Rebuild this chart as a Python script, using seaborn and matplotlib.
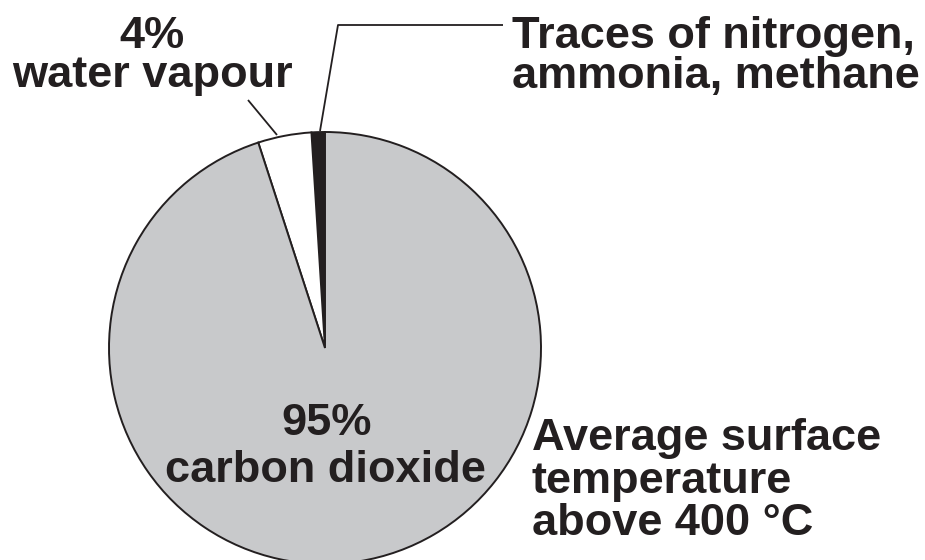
import matplotlib
matplotlib.use("Agg")
import matplotlib.pyplot as plt
import seaborn as sns

# Venus atmosphere composition (percent)
gases = ["Traces", "Water vapour", "Carbon dioxide"]
shares = [1, 4, 95]
slice_colors = ["#231f20", "#ffffff", "#c8c9cb"]

ink = "#231f20"
W, H = 925, 560

sns.set_style("white")
plt.rcParams["font.family"] = ["Liberation Sans", "DejaVu Sans"]


def py(y):
    # pixel row (from top) to data y
    return H - y


fig = plt.figure(figsize=(W / 100, H / 100), dpi=100)
ax = fig.add_axes([0, 0, 1, 1])

ax.pie(
    shares,
    colors=slice_colors,
    startangle=90,
    counterclock=True,
    center=(325, py(348)),
    radius=216,
    wedgeprops=dict(edgecolor=ink, linewidth=1.4),
)
ax.set_xlim(0, W)
ax.set_ylim(0, H)
ax.set_aspect("equal")
ax.axis("off")

fs = 32.5
txt = dict(fontsize=fs, fontweight="bold", color=ink, va="baseline")

# leader lines
ax.plot([320, 338, 503], [py(131), py(25), py(25)], color=ink, lw=1.3,
        solid_capstyle="butt")
ax.plot([248, 277], [py(100), py(135)], color=ink, lw=1.3,
        solid_capstyle="butt")

ax.text(152, py(48), "4%", ha="center", **txt)
ax.text(152, py(87), "water vapour", ha="center", **txt)

ax.text(512, py(48), "Traces of nitrogen,", ha="left", **txt)
ax.text(512, py(88), "ammonia, methane", ha="left", **txt)

ax.text(327, py(435), "95%", ha="center", **txt)
ax.text(325, py(482), "carbon dioxide", ha="center", **txt)

ax.text(532, py(450), "Average surface", ha="left", **txt)
ax.text(532, py(493), "temperature", ha="left", **txt)
ax.text(532, py(535), "above 400 °C", ha="left", **txt)

fig.savefig("out.png", dpi=100, facecolor="white")
plt.close(fig)
